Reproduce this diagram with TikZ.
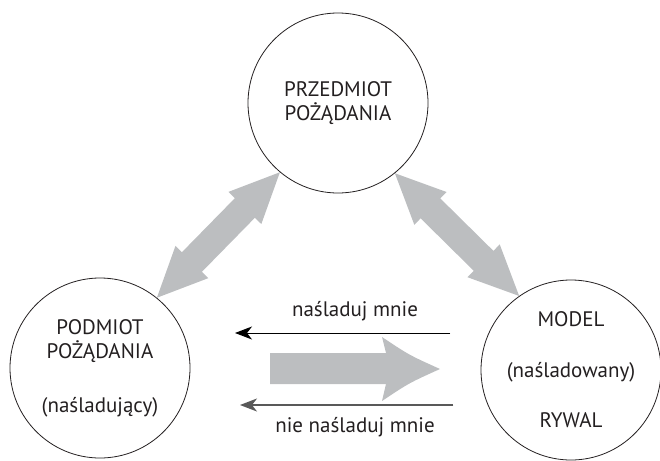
\documentclass[tikz,border=0pt]{standalone}
\usepackage{fontspec}
\setmainfont{PT Sans}
\usetikzlibrary{calc,arrows.meta}
\definecolor{arrowgray}{RGB}{188,190,192}
\definecolor{ink}{RGB}{35,31,32}
\newcommand\fatdouble[5]{% A, B, head length, head half-width, shaft half-width
  \fill[arrowgray] (#1)
    -- ($($(#1)!#3!(#2)$)!#4!90:(#2)$)
    -- ($($(#1)!#3!(#2)$)!#5!90:(#2)$)
    -- ($($(#2)!#3!(#1)$)!#5!-90:(#1)$)
    -- ($($(#2)!#3!(#1)$)!#4!-90:(#1)$)
    -- (#2)
    -- ($($(#2)!#3!(#1)$)!#4!90:(#1)$)
    -- ($($(#2)!#3!(#1)$)!#5!90:(#1)$)
    -- ($($(#1)!#3!(#2)$)!#5!-90:(#2)$)
    -- ($($(#1)!#3!(#2)$)!#4!-90:(#2)$)
    -- cycle;}
\begin{document}
\begin{tikzpicture}[x=1pt,y=-1pt,
  every node/.style={text=ink},
  txt/.style={font=\fontsize{21}{24}\selectfont},
  bubble/.style={circle,draw=ink,line width=0.8pt,minimum size=180pt,inner sep=0pt,
    align=center,font=\fontsize{21}{24}\selectfont},
  thinarrow/.style={-{Stealth[length=17pt,width=13pt,inset=5pt]}}]
\useasboundingbox (0,0) rectangle (660,460);
\node[bubble] (top) at (338,103) {PRZEDMIOT\\POŻĄDANIA};
\node[bubble] (left) at (100,368) {PODMIOT\\POŻĄDANIA\\[30pt](naśladujący)};
\node[bubble] (right) at (571,370) {MODEL\\[27pt](naśladowany)\\[26pt]RYWAL};
\fatdouble{left.51}{top.230}{50pt}{23pt}{14pt}
\fatdouble{top.309}{right.125}{50pt}{23pt}{14pt}
\fill[arrowgray] (270,353) -- (386,353) -- (382,337)
  .. controls (409,355) .. (440,369)
  .. controls (409,383) .. (382,401) -- (386,384) -- (270,384) -- cycle;
\coordinate (t1) at (450,333);
\coordinate (t2) at (235,333);
\coordinate (b1) at (453,405);
\coordinate (b2) at (240,405);
\draw[thinarrow,line width=1pt,draw=black,fill=black] (t1) -- (t2);
\draw[thinarrow,line width=1.4pt,draw=black!65,fill=black] (b1) -- (b2);
\node[txt] (lab1) at (355,311) {naśladuj mnie};
\node[txt] (lab2) at (355,427) {nie naśladuj mnie};
\end{tikzpicture}
\end{document}
